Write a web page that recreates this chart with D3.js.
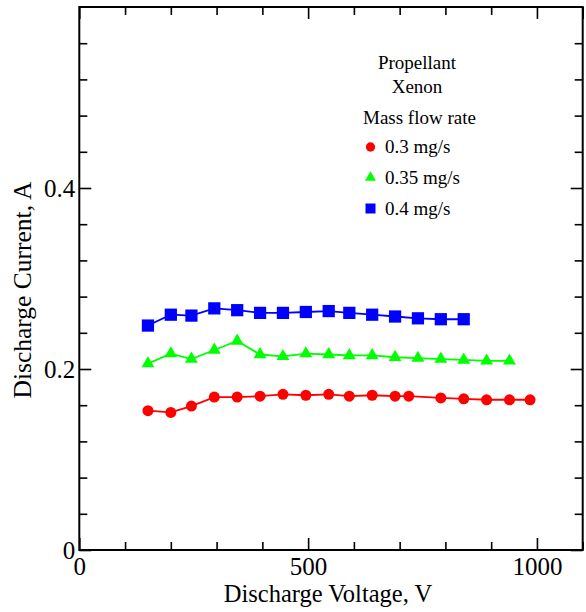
<!DOCTYPE html>
<html><head><meta charset="utf-8">
<script src="https://cdn.jsdelivr.net/npm/d3@7"></script>
<style>body{margin:0;background:#fff}svg{display:block}text{font-family:"Liberation Serif","Times New Roman",serif;fill:#000}</style>
</head><body><svg id="c" width="586" height="612"></svg>
<script>
const voltage03 = [150,200,245,295,345,395,445,495,545,590,640,690,720,790,840,890,940,985];
const current03 = [0.154,0.152,0.159,0.169,0.169,0.170,0.172,0.171,0.172,0.170,0.171,0.170,0.170,0.168,0.167,0.166,0.166,0.166];
const voltage035 = [150,200,245,295,345,395,445,495,545,590,640,690,740,790,840,890,940];
const current035 = [0.206,0.217,0.211,0.221,0.231,0.216,0.214,0.217,0.216,0.215,0.215,0.213,0.212,0.211,0.210,0.209,0.209];
const voltage04 = [150,200,245,295,345,395,445,495,545,590,640,690,740,790,840];
const current04 = [0.248,0.260,0.259,0.267,0.265,0.262,0.262,0.263,0.264,0.262,0.260,0.258,0.256,0.255,0.255];
const seriesNames = ["0.3 mg/s","0.35 mg/s","0.4 mg/s"];
const xMajorTicks = [0,500,1000];
const yMajorTicks = [0,0.2,0.4];
const xTitle = "Discharge Voltage, V";
const yTitle = "Discharge Current, A";
const legendHead = ["Propellant","Xenon","Mass flow rate"];

const svg = d3.select("#c");
const L=79.3, R=582.7, T=7, B=550;
const x = d3.scaleLinear().domain([0,1100]).range([L,R]);
const y = d3.scaleLinear().domain([0,0.6]).range([B,T]);

const xMinor = d3.range(0,1101,100).filter(v=>!xMajorTicks.includes(v));
const yMinor = d3.range(1,15).map(i=>+(i*0.04).toFixed(2)).filter(v=>!yMajorTicks.some(m=>Math.abs(m-v)<1e-9));

function styleAxis(g){g.select(".domain").remove();g.selectAll("line").attr("stroke","#000").attr("stroke-width",1.6);g.selectAll("text").attr("font-size",25).attr("font-family",'"Liberation Serif",serif');}

svg.append("g").attr("transform",`translate(0,${B})`).call(d3.axisBottom(x).tickValues(xMajorTicks).tickSizeInner(-12).tickSizeOuter(0).tickPadding(7).tickFormat(d3.format("d"))).call(styleAxis);
svg.append("g").attr("transform",`translate(0,${B})`).call(d3.axisBottom(x).tickValues(xMinor).tickSizeInner(-8).tickSizeOuter(0).tickFormat("")).call(styleAxis);
svg.append("g").attr("transform",`translate(0,${T})`).call(d3.axisTop(x).tickValues(xMajorTicks.concat([1100])).tickSizeInner(-12).tickSizeOuter(0).tickFormat("")).call(styleAxis);
svg.append("g").attr("transform",`translate(0,${T})`).call(d3.axisTop(x).tickValues(xMinor).tickSizeInner(-8).tickSizeOuter(0).tickFormat("")).call(styleAxis);
svg.append("g").attr("transform",`translate(${L},0)`).call(d3.axisLeft(y).tickValues(yMajorTicks).tickSizeInner(-12).tickSizeOuter(0).tickPadding(4).tickFormat(d=>d===0?"0":d3.format(".1f")(d))).call(styleAxis);
svg.append("g").attr("transform",`translate(${L},0)`).call(d3.axisLeft(y).tickValues(yMinor).tickSizeInner(-8).tickSizeOuter(0).tickFormat("")).call(styleAxis);
svg.append("g").attr("transform",`translate(${R},0)`).call(d3.axisRight(y).tickValues(yMajorTicks).tickSizeInner(-12).tickSizeOuter(0).tickFormat("")).call(styleAxis);
svg.append("g").attr("transform",`translate(${R},0)`).call(d3.axisRight(y).tickValues(yMinor).tickSizeInner(-8).tickSizeOuter(0).tickFormat("")).call(styleAxis);

svg.append("rect").attr("x",L).attr("y",T).attr("width",R-L).attr("height",B-T).attr("fill","none").attr("stroke","#000").attr("stroke-width",2);

svg.append("text").attr("x",(L+R)/2-3).attr("y",602).attr("text-anchor","middle").attr("font-size",24.5).text(xTitle);
svg.append("text").attr("transform",`translate(31,${290}) rotate(-90)`).attr("text-anchor","middle").attr("font-size",25.5).text(yTitle);

const series = [
 {v:voltage03,c:current03,color:"#ff0000",sym:d3.symbolCircle,size:95,lsize:68},
 {v:voltage035,c:current035,color:"#00ff00",sym:d3.symbolTriangle,size:72,lsize:52},
 {v:voltage04,c:current04,color:"#0000ff",sym:d3.symbolSquare,size:150,lsize:100}
];
const line = d3.line().x(d=>x(d[0])).y(d=>y(d[1]));
series.forEach(s=>{
  const pts = s.v.map((v,i)=>[v,s.c[i]]);
  svg.append("path").datum(pts).attr("d",line).attr("fill","none").attr("stroke",s.color).attr("stroke-width",1.8);
  svg.append("g").selectAll("path").data(pts).join("path")
    .attr("transform",d=>`translate(${x(d[0])},${y(d[1])})`)
    .attr("d",d3.symbol().type(s.sym).size(s.size)).attr("fill",s.color);
});

svg.append("text").attr("x",417).attr("y",68.5).attr("text-anchor","middle").attr("font-size",19).text(legendHead[0]);
svg.append("text").attr("x",417).attr("y",92.5).attr("text-anchor","middle").attr("font-size",19).text(legendHead[1]);
svg.append("text").attr("x",363).attr("y",124).attr("font-size",19).text(legendHead[2]);
const ly=[147,177.5,208.5], lt=[153,184,214.5];
series.forEach((s,i)=>{
  svg.append("path").attr("transform",`translate(370.5,${ly[i]})`).attr("d",d3.symbol().type(s.sym).size(s.lsize)).attr("fill",s.color);
  svg.append("text").attr("x",385).attr("y",lt[i]).attr("font-size",19).text(seriesNames[i]);
});
</script></body></html>
